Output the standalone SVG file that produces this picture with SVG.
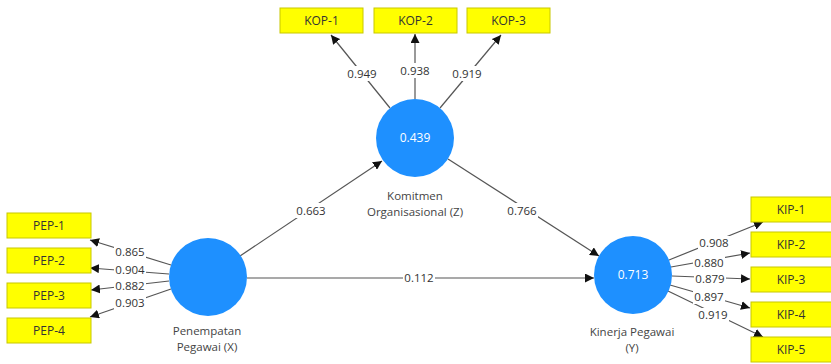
<svg xmlns="http://www.w3.org/2000/svg" width="831" height="364" viewBox="0 0 831 364">
<style>
.ind rect{fill:#ffff00;stroke:#c8c800;stroke-width:1}
.ind text{font-family:"Open Sans","Noto Sans",sans-serif;font-size:12px;fill:#333;text-anchor:middle}
.lv circle{fill:#1e90ff}
.lv text.v{font-family:"Open Sans","Noto Sans",sans-serif;font-size:12px;fill:#fff;text-anchor:middle}
.lv text.c{font-family:"Open Sans","Noto Sans",sans-serif;font-size:11.5px;fill:#444;text-anchor:middle}
.cn line{stroke:#555;stroke-width:1.2;marker-end:url(#ah)}
.cn rect{fill:#fff}
.cn text{font-family:"Open Sans","Noto Sans",sans-serif;font-size:11.5px;fill:#333;text-anchor:middle}
</style>
<defs>
<marker id="ah" viewBox="0 0 10 10" refX="10" refY="5" markerWidth="9" markerHeight="9" markerUnits="userSpaceOnUse" orient="auto">
<path d="M0,0 L10,5 L0,10 z" fill="#111"/>
</marker>
</defs>
<rect width="831" height="364" fill="#fff"/>
<g id="connectors" class="cn">
<line x1="390" y1="108" x2="331" y2="35"/>
<line x1="415" y1="99" x2="415" y2="34"/>
<line x1="440" y1="108" x2="501" y2="35"/>
<line x1="171" y1="265" x2="90" y2="240"/>
<line x1="169" y1="274" x2="90" y2="268"/>
<line x1="169" y1="281" x2="91" y2="290"/>
<line x1="171" y1="289" x2="90" y2="317"/>
<line x1="669" y1="260" x2="763" y2="222"/>
<line x1="671" y1="267" x2="750" y2="253"/>
<line x1="672" y1="276" x2="750" y2="279"/>
<line x1="670" y1="285" x2="750" y2="308"/>
<line x1="668" y1="291" x2="763" y2="337"/>
<line x1="240" y1="256" x2="382" y2="161"/>
<line x1="448" y1="159" x2="599" y2="256"/>
<line x1="247" y1="278" x2="594" y2="278"/>
<rect x="346" y="66" width="32" height="15"/><text x="362" y="78">0.949</text>
<rect x="399" y="63" width="32" height="15"/><text x="415" y="75">0.938</text>
<rect x="451" y="66" width="32" height="15"/><text x="467" y="78">0.919</text>
<rect x="114" y="245" width="32" height="14"/><text x="130" y="256">0.865</text>
<rect x="114" y="264" width="32" height="13"/><text x="130" y="274">0.904</text>
<rect x="114" y="279" width="32" height="13"/><text x="130" y="290">0.882</text>
<rect x="114" y="296" width="32" height="14"/><text x="130" y="307">0.903</text>
<rect x="698" y="236" width="32" height="14"/><text x="714" y="247">0.908</text>
<rect x="693" y="256" width="32" height="13"/><text x="709" y="267">0.880</text>
<rect x="694" y="272" width="32" height="13"/><text x="710" y="283">0.879</text>
<rect x="693" y="290" width="32" height="14"/><text x="709" y="301">0.897</text>
<rect x="697" y="308" width="32" height="14"/><text x="713" y="319">0.919</text>
<rect x="295" y="203" width="32" height="15"/><text x="311" y="215">0.663</text>
<rect x="506" y="203" width="32" height="15"/><text x="522" y="215">0.766</text>
<rect x="403" y="270" width="32" height="15"/><text x="419" y="282">0.112</text>
</g>
<g id="KOP-1" class="ind"><rect x="280" y="8" width="83" height="25"/><text x="321.5" y="25">KOP-1</text></g>
<g id="KOP-2" class="ind"><rect x="374" y="8" width="83" height="25"/><text x="415.5" y="25">KOP-2</text></g>
<g id="KOP-3" class="ind"><rect x="467" y="8" width="83" height="25"/><text x="508.5" y="25">KOP-3</text></g>
<g id="PEP-1" class="ind"><rect x="7" y="213" width="84" height="25"/><text x="49" y="230">PEP-1</text></g>
<g id="PEP-2" class="ind"><rect x="7" y="248" width="84" height="25"/><text x="49" y="265">PEP-2</text></g>
<g id="PEP-3" class="ind"><rect x="7" y="283" width="84" height="25"/><text x="49" y="300">PEP-3</text></g>
<g id="PEP-4" class="ind"><rect x="7" y="318" width="84" height="25"/><text x="49" y="335">PEP-4</text></g>
<g id="KIP-1" class="ind"><rect x="751" y="197" width="84" height="25"/><text x="791" y="214">KIP-1</text></g>
<g id="KIP-2" class="ind"><rect x="751" y="232" width="84" height="25"/><text x="791" y="249">KIP-2</text></g>
<g id="KIP-3" class="ind"><rect x="751" y="267" width="84" height="25"/><text x="791" y="284">KIP-3</text></g>
<g id="KIP-4" class="ind"><rect x="751" y="302" width="84" height="25"/><text x="791" y="319">KIP-4</text></g>
<g id="KIP-5" class="ind"><rect x="751" y="337" width="84" height="25"/><text x="791" y="354">KIP-5</text></g>
<g id="Z" class="lv"><circle cx="415" cy="138" r="39"/><text class="v" x="415" y="142">0.439</text><text class="c" x="415" y="200">Komitmen</text><text class="c" x="415" y="216">Organisasional (Z)</text></g>
<g id="X" class="lv"><circle cx="208" cy="277" r="39"/><text class="c" x="207" y="335">Penempatan</text><text class="c" x="207" y="351">Pegawai (X)</text></g>
<g id="Y" class="lv"><circle cx="633" cy="275" r="39"/><text class="v" x="633" y="279">0.713</text><text class="c" x="632" y="336">Kinerja Pegawai</text><text class="c" x="632" y="352">(Y)</text></g>
</svg>
